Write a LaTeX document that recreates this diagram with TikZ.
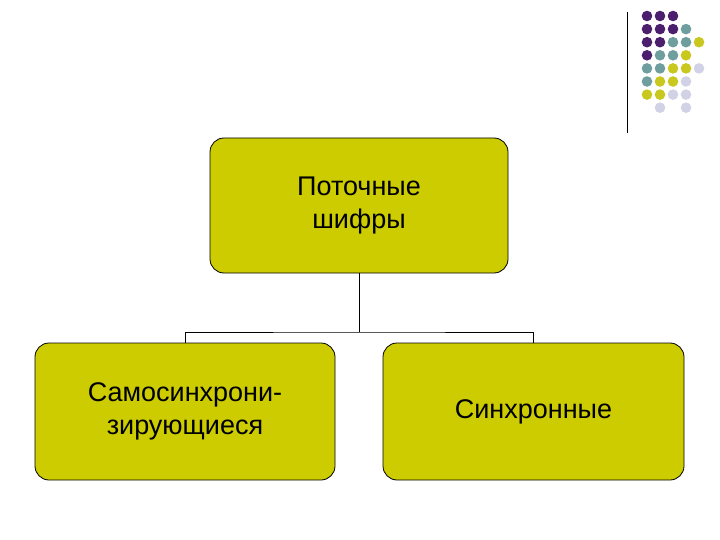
\documentclass[tikz,border=0pt]{standalone}
\usepackage{fontspec}
\setmainfont{Liberation Sans}
\definecolor{boxy}{HTML}{CCCC00}
\definecolor{dp}{HTML}{4B1E6E}
\definecolor{dt}{HTML}{6E9E9E}
\definecolor{dy}{HTML}{C8C81E}
\definecolor{dl}{HTML}{D2D2E6}
\begin{document}
\begin{tikzpicture}[x=1pt,y=-1pt,
  boxn/.style={draw=black,line width=0.8pt,fill=boxy,rounded corners=14pt,align=center,font=\fontsize{27}{33}\selectfont,inner sep=0pt},
  conn/.style={line width=1pt}]
\useasboundingbox (0,0) rectangle (720,540);
\node[boxn,minimum width=298pt,minimum height=135pt] (top) at (359,205.5) {Поточные\\шифры};
\node[boxn,minimum width=300pt,minimum height=137pt] (l) at (185,411.5) {Самосинхрони-\\зирующиеся};
\node[boxn,minimum width=301pt,minimum height=137pt] (r) at (533.5,411.5) {Синхронные};
\coordinate (m) at (359,332);
\draw[conn] (top.south) -- (m);
\draw[conn] (l.north) |- (m) -| (r.north);
\draw[line width=1pt] (627,12) -- (627,133);
\foreach \c/\i/\j in {dp/0/0,dp/1/0,dp/2/0,
 dp/0/1,dp/1/1,dp/2/1,dt/3/1,
 dp/0/2,dp/1/2,dt/2/2,dt/3/2,dy/4/2,
 dp/0/3,dt/1/3,dt/2/3,dy/3/3,
 dt/0/4,dt/1/4,dy/2/4,dy/3/4,dl/4/4,
 dt/0/5,dy/1/5,dy/2/5,dl/3/5,
 dy/0/6,dy/1/6,dl/2/6,dl/3/6,
 dl/1/7,dl/3/7}
 \fill[\c] (647+13*\i,16+13.1*\j) circle (5.3pt);
\end{tikzpicture}
\end{document}
